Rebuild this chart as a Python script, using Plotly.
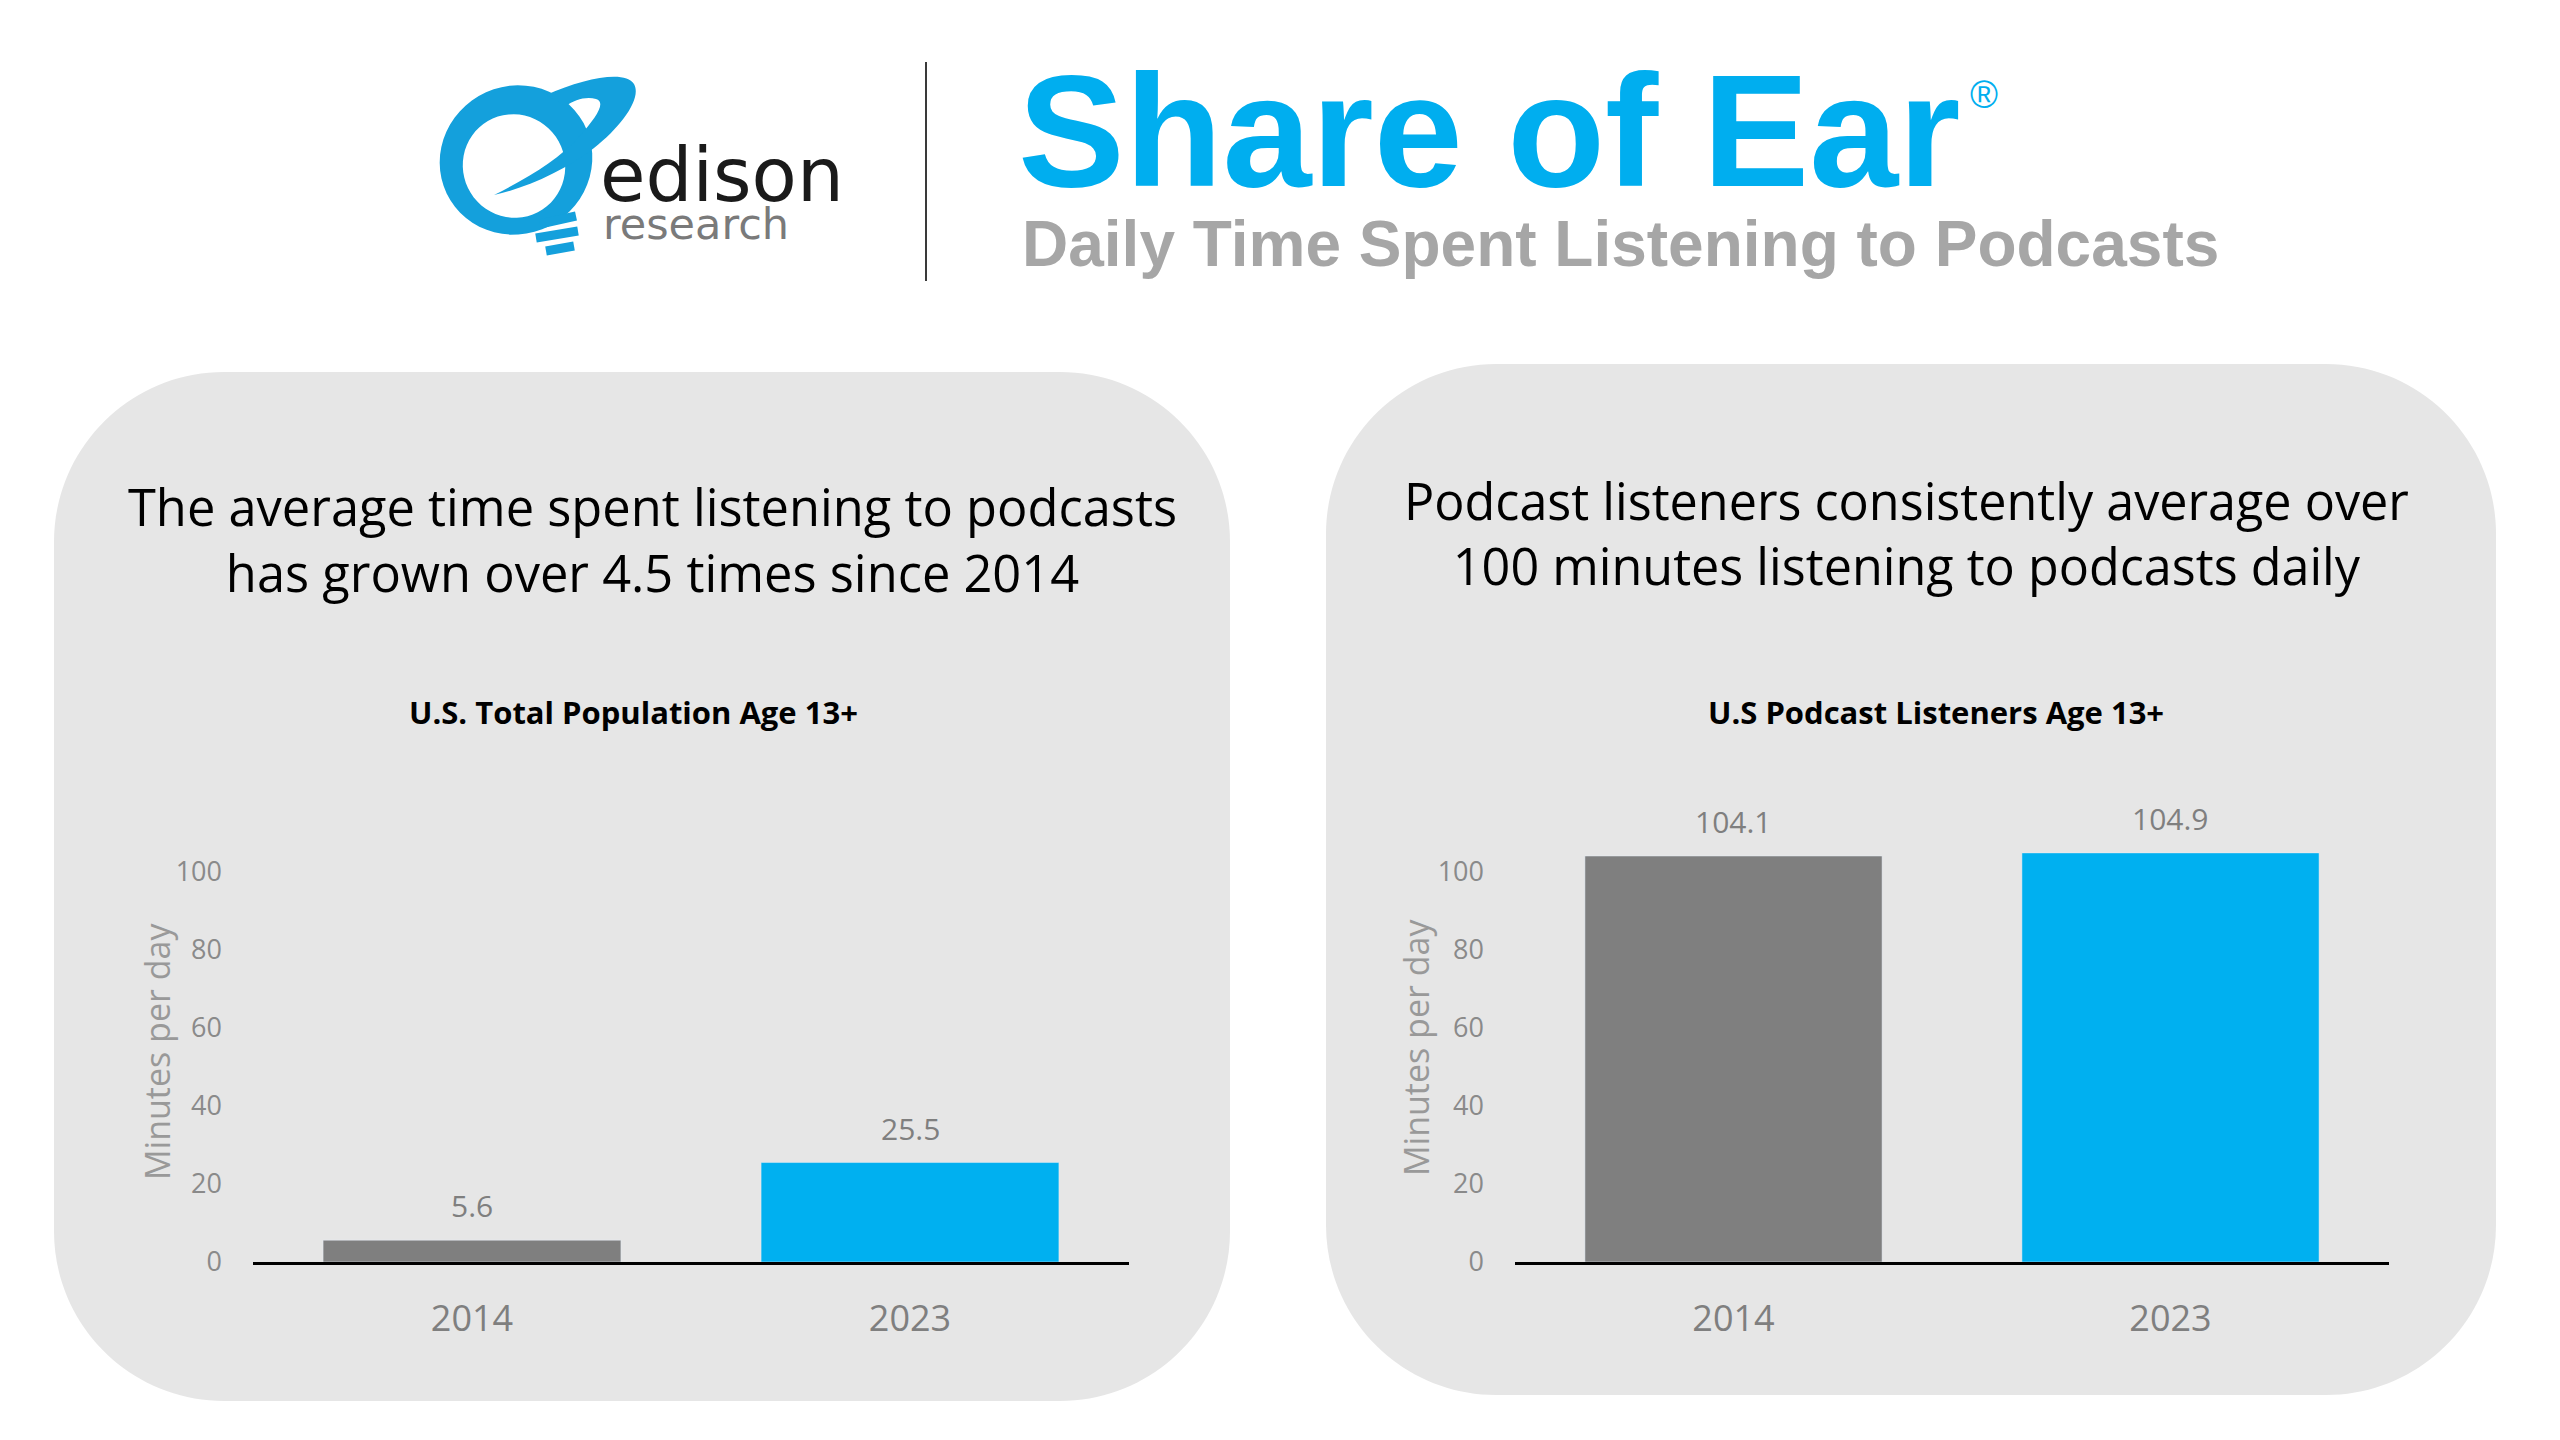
import numpy as np
import plotly.graph_objects as go

# data
categories = ["2014", "2023"]
total_pop = [5.6, 25.5]
listeners = [104.1, 104.9]
bar_colors = ["#7f7f7f", "#00b0f0"]
y_ticks = [0, 20, 40, 60, 80, 100]

# page body has an 8px margin, so the figure is 16px smaller and every
# position below is given in screen pixels
OFF = 8
W, H = 2560 - 2 * OFF, 1440 - 2 * OFF
SANS = "Open Sans, Noto Sans, sans-serif"
ARIAL = "Liberation Sans, Arial, sans-serif"


def X(x):
    return (x - OFF) / W


def Y(y):
    return 1 - (y - OFF) / H


def path(pts, close=True):
    # pts: list of ("M"/"L"/"C", [x, y, ...]) in pixel coords
    out = []
    for cmd, c in pts:
        vals = []
        for i in range(0, len(c), 2):
            vals.append(f"{X(c[i]):.5f},{Y(c[i + 1]):.5f}")
        out.append(cmd + " " + " ".join(vals))
    return " ".join(out) + (" Z" if close else "")


def rounded_rect(x0, y0, x1, y1, r):
    k = 0.5523 * r
    return path([
        ("M", [x0 + r, y0]),
        ("L", [x1 - r, y0]),
        ("C", [x1 - r + k, y0, x1, y0 + r - k, x1, y0 + r]),
        ("L", [x1, y1 - r]),
        ("C", [x1, y1 - r + k, x1 - r + k, y1, x1 - r, y1]),
        ("L", [x0 + r, y1]),
        ("C", [x0 + r - k, y1, x0, y1 - r + k, x0, y1 - r]),
        ("L", [x0, y0 + r]),
        ("C", [x0, y0 + r - k, x0 + r - k, y0, x0 + r, y0]),
    ])


def ellipse_pts(cx, cy, a, b, tilt, reverse=False):
    t = np.linspace(0, 2 * np.pi, 60)
    if reverse:
        t = t[::-1]
    ct, st = np.cos(tilt), np.sin(tilt)
    xs = cx + a * np.cos(t) * ct - b * np.sin(t) * st
    ys = cy + a * np.cos(t) * st + b * np.sin(t) * ct
    s = f"M {X(xs[0]):.5f},{Y(ys[0]):.5f} "
    s += " ".join(f"L {X(x):.5f},{Y(y):.5f}" for x, y in zip(xs[1:], ys[1:]))
    return s + " Z"


fig = go.Figure()

fig.add_trace(go.Bar(x=categories, y=total_pop, marker_color=bar_colors,
                     xaxis="x", yaxis="y", hoverinfo="skip"))
fig.add_trace(go.Bar(x=categories, y=listeners, marker_color=bar_colors,
                     xaxis="x2", yaxis="y2", hoverinfo="skip"))

y_dom = [Y(1262), Y(794)]
xaxis_style = dict(type="category", range=[-0.5, len(categories) - 0.5], autorange=False,
                   automargin=False,
                   showline=True, linecolor="black", linewidth=3,
                   showgrid=False, zeroline=False, ticks="",
                   tickfont=dict(family=SANS, size=36, color="#7f7f7f"),
                   ticklabelstandoff=23)
yaxis_style = dict(range=[0, 120], autorange=False, automargin=False,
                   tickvals=y_ticks, showgrid=False, zeroline=False,
                   showline=False, ticks="",
                   tickfont=dict(family=SANS, size=27, color="#8a8a8a"),
                   ticklabelstandoff=30)

fig.update_layout(
    width=W, height=H,
    margin=dict(l=0, r=0, t=0, b=0, autoexpand=False),
    paper_bgcolor="white", plot_bgcolor="rgba(0,0,0,0)",
    showlegend=False, bargap=0.32,
    xaxis=dict(domain=[X(253), X(1129)], anchor="y", **xaxis_style),
    yaxis=dict(domain=y_dom, anchor="x", **yaxis_style),
    xaxis2=dict(domain=[X(1515), X(2389)], anchor="y2", **xaxis_style),
    yaxis2=dict(domain=y_dom, anchor="x2", **yaxis_style),
)

shapes = []
# panels
shapes.append(dict(type="path", xref="paper", yref="paper", layer="below",
                   path=rounded_rect(54, 372, 1230, 1401, 170),
                   fillcolor="#e6e6e6", line=dict(width=0)))
shapes.append(dict(type="path", xref="paper", yref="paper", layer="below",
                   path=rounded_rect(1326, 364, 2496, 1395, 170),
                   fillcolor="#e6e6e6", line=dict(width=0)))
# divider
shapes.append(dict(type="line", xref="paper", yref="paper",
                   x0=X(926), x1=X(926), y0=Y(62), y1=Y(281),
                   line=dict(color="#3a3a3a", width=2)))

# logo ring
logo_blue = "#14a0dc"
ring = ellipse_pts(516, 160, 77, 74, -0.5) + " " + ellipse_pts(514, 166, 51, 52, -0.5, reverse=True)
shapes.append(dict(type="path", xref="paper", yref="paper", path=ring,
                   fillcolor=logo_blue, line=dict(width=0)))
# orbit swoosh
orbit = path([
    ("M", [546, 95]),
    ("C", [585, 78, 625, 70, 634, 84]),
    ("C", [642, 98, 622, 126, 594, 148]),
    ("C", [566, 170, 526, 188, 494, 195]),
    ("C", [530, 177, 560, 158, 578, 138]),
    ("C", [598, 116, 606, 102, 596, 99]),
    ("C", [586, 96, 574, 100, 566, 106]),
])
shapes.append(dict(type="path", xref="paper", yref="paper", path=orbit,
                   fillcolor=logo_blue, line=dict(width=0)))
# bulb threads
for (x0, y0, x1, y1) in [(540, 224, 576, 216), (536, 238, 578, 231), (546, 251, 574, 246)]:
    shapes.append(dict(type="line", xref="paper", yref="paper",
                       x0=X(x0), y0=Y(y0), x1=X(x1), y1=Y(y1),
                       line=dict(color=logo_blue, width=9)))
fig.update_layout(shapes=shapes)

ann = []


def txt(x, y, text, size, color, family=SANS, xanchor="center", yanchor="middle", **kw):
    ann.append(dict(xref="paper", yref="paper", x=X(x), y=Y(y), text=text,
                    showarrow=False, xanchor=xanchor, yanchor=yanchor,
                    font=dict(family=family, size=size, color=color), **kw))


# header
txt(598, 175, "edison", 74, "#1a1a1a", family="DejaVu Sans", xanchor="left")
txt(601, 224, "research", 43, "#7a7a7a", family="DejaVu Sans", xanchor="left")
txt(1016, 131, "<b>Share of Ear</b>", 160, "#00aeef", family=ARIAL, xanchor="left")
txt(1984, 95, "®", 38, "#00aeef", family=ARIAL)
txt(1020, 244, "<b>Daily Time Spent Listening to Podcasts</b>", 64, "#a6a6a6",
    family=ARIAL, xanchor="left")

# panel headings
txt(652, 539, "The average time spent listening to podcasts<br>has grown over 4.5 times since 2014",
    50.6, "#000000")
txt(1906, 533, "Podcast listeners consistently average over<br>100 minutes listening to podcasts daily",
    50.3, "#000000")
txt(633, 712, "<b>U.S. Total Population Age 13+</b>", 31, "#000000")
txt(1936, 712, "<b>U.S Podcast Listeners Age 13+</b>", 31, "#000000")

# y axis titles
txt(157, 1052, "Minutes per day", 34, "#999999", textangle=-90)
txt(1416, 1048, "Minutes per day", 34, "#999999", textangle=-90)

# value labels (category index on the category axis)
for xr, yr, vals in [("x", "y", total_pop), ("x2", "y2", listeners)]:
    for i, v in enumerate(vals):
        ann.append(dict(xref=xr, yref=yr, x=i, y=v, text=f"{v:.1f}",
                        showarrow=False, yanchor="bottom", yshift=12,
                        font=dict(family=SANS, size=30, color="#7f7f7f")))

fig.update_layout(annotations=ann)

fig.write_html("out.html")
